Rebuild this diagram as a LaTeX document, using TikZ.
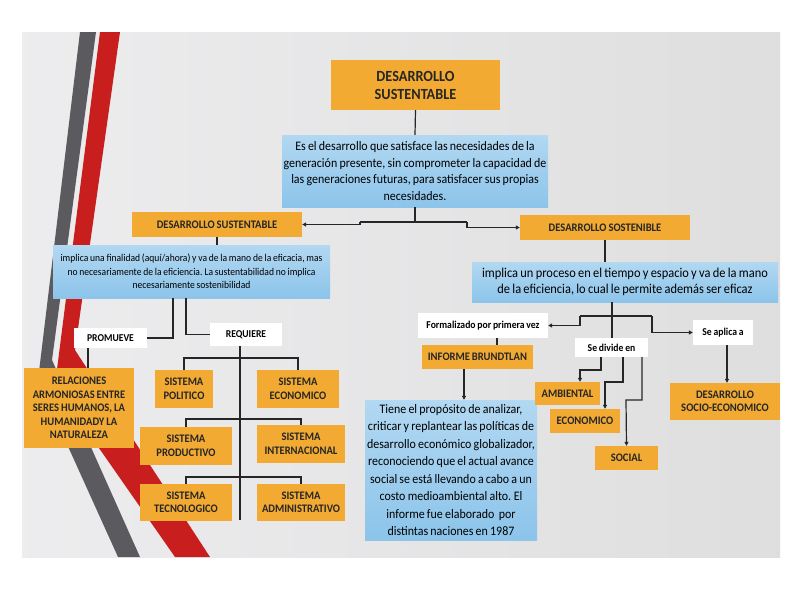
\documentclass[tikz,border=0pt]{standalone}
\usepackage{fontspec}
\setmainfont{Carlito}[FakeStretch=0.92]
\usetikzlibrary{arrows.meta,calc}
\definecolor{naranja}{RGB}{242,170,50}
\definecolor{celeste}{RGB}{178,216,242}
\definecolor{celesteB}{RGB}{140,196,234}
\definecolor{fondo}{RGB}{232,232,234}
\definecolor{rojo}{RGB}{200,30,30}
\definecolor{gris}{RGB}{90,90,95}
\newcommand\apretado{\spaceskip=0.17em plus 0.05em minus 0.02em\xspaceskip=0.2em}
\tikzset{
  caja/.style={fill=naranja,inner sep=1pt,align=center,font=\bfseries\fontsize{11.5}{13.5}\selectfont\apretado,text=black!85},
  nube/.style={top color=celeste,bottom color=celesteB,inner sep=1pt,align=center,font=\fontsize{13}{16.5}\selectfont\apretado},
  etiqueta/.style={fill=white,inner sep=1pt,align=center,font=\bfseries\fontsize{10.5}{12}\selectfont\apretado},
  linea/.style={draw=black!85,line width=1.2pt},
  flecha/.style={linea,-{Triangle[length=4pt,width=4pt]}}
}
\begin{document}
\begin{tikzpicture}[x=1pt,y=-1pt]
\path[use as bounding box,fill=white] (0,0) rectangle (800,600);
\fill[left color=fondo!80!white,right color=fondo!70!gray!60] (22,32) rectangle (780,557);
% franjas
\fill[gris] (80,32) -- (96,32) -- (52,360) -- (140,557) -- (118,557) -- (38,380) -- cycle;
\fill[rojo] (100,32) -- (120,32) -- (75,350) -- (210,557) -- (175,557) -- (55,385) -- cycle;

% nodos
\node[caja,minimum width=169pt,minimum height=50pt,font=\bfseries\fontsize{15.5}{18}\selectfont] (titulo) at (415.5,85) {DESARROLLO\\SUSTENTABLE};
\node[nube,minimum width=266pt,minimum height=72pt] (def) at (415,171) {Es el desarrollo que satisface las necesidades de la\\generación presente, sin comprometer la capacidad de\\las generaciones futuras, para satisfacer sus propias\\necesidades.};
\node[caja,minimum width=170pt,minimum height=25pt] (dsus) at (217,224.5) {DESARROLLO SUSTENTABLE};
\node[caja,minimum width=170pt,minimum height=25pt] (dsos) at (605,227.5) {DESARROLLO SOSTENIBLE};
\node[nube,minimum width=277pt,minimum height=53pt,font=\fontsize{10.4}{13.5}\selectfont\apretado] (impl1) at (191.5,271.5) {implica una finalidad (aquí/ahora) y va de la mano de la eficacia, mas\\no necesariamente de la eficiencia. La sustentabilidad no implica\\necesariamente sostenibilidad};
\node[nube,minimum width=306pt,minimum height=40pt,font=\fontsize{13.5}{16.5}\selectfont\apretado] (impl2) at (625,282) {implica un proceso en el tiempo y espacio y va de la mano\\de la eficiencia, lo cual le permite además ser eficaz};
\node[etiqueta,minimum width=73pt,minimum height=20pt] (promueve) at (110.5,338) {PROMUEVE};
\node[etiqueta,minimum width=72pt,minimum height=23pt] (requiere) at (246,334.5) {REQUIERE};
\node[caja,minimum width=110pt,minimum height=80pt] (relac) at (79,408) {RELACIONES\\ARMONIOSAS ENTRE\\SERES HUMANOS, LA\\HUMANIDADY LA\\NATURALEZA};
\node[caja,minimum width=58pt,minimum height=38pt] (politico) at (184,389) {SISTEMA\\POLITICO};
\node[caja,minimum width=82pt,minimum height=38pt] (economico) at (298,389) {SISTEMA\\ECONOMICO};
\node[caja,minimum width=92pt,minimum height=38pt] (productivo) at (186,446) {SISTEMA\\PRODUCTIVO};
\node[caja,minimum width=88pt,minimum height=38pt] (internac) at (301,444) {SISTEMA\\INTERNACIONAL};
\node[caja,minimum width=92pt,minimum height=37pt] (tecnol) at (186,502.5) {SISTEMA\\TECNOLOGICO};
\node[caja,minimum width=88pt,minimum height=37pt] (admin) at (301,502.5) {SISTEMA\\ADMINISTRATIVO};
\node[etiqueta,minimum width=130pt,minimum height=25pt] (formal) at (483,325.5) {Formalizado por primera vez};
\node[caja,minimum width=111pt,minimum height=24pt] (informe) at (477.5,357) {INFORME BRUNDTLAN};
\node[nube,minimum width=172pt,minimum height=140pt,font=\fontsize{13}{17.5}\selectfont\apretado] (tiene) at (451,470) {Tiene el propósito de analizar,\\criticar y replantear las políticas de\\desarrollo económico globalizador,\\reconociendo que el actual avance\\social se está llevando a cabo a un\\costo medioambiental alto. El\\informe fue elaborado\ \ por\\distintas naciones en 1987};
\node[etiqueta,minimum width=73pt,minimum height=19pt] (divide) at (611.5,347.5) {Se divide en};
\node[etiqueta,minimum width=60pt,minimum height=25pt] (aplica) at (723,332.5) {Se aplica a};
\node[caja,minimum width=65pt,minimum height=23pt] (ambiental) at (567.5,393.5) {AMBIENTAL};
\node[caja,minimum width=70pt,minimum height=24pt] (econ2) at (585,421) {ECONOMICO};
\node[caja,minimum width=63pt,minimum height=24pt] (social) at (626.5,458) {SOCIAL};
\node[caja,minimum width=110pt,minimum height=37pt] (socioeco) at (725,401.5) {DESARROLLO\\SOCIO-ECONOMICO};

% conectores superiores
\coordinate (bifA) at (360,222);
\coordinate (bifB) at (467,222);
\draw[linea] (titulo.south) -- (def.north);
\draw[linea] (def.south) -- (def.south |- bifA);
\draw[linea] (bifA) -- (bifB);
\draw[flecha] (bifA) -- (bifA |- dsus.east) -- (dsus.east);
\draw[flecha] (bifB) -- (bifB |- dsos.west) -- (dsos.west);
\draw[linea] (dsus.south) -- (impl1.north -| dsus.south);
\draw[linea] (dsos.south) -- (impl2.north -| dsos.south);

% rama sustentable
\coordinate (p1) at (173,298);
\coordinate (p2) at (186,298);
\draw[linea] (p1) |- (promueve.east);
\draw[linea] (p2) |- (requiere.west);
\draw[linea] (promueve.south -| 88,0) -- (relac.north -| 88,0);
\coordinate (tronco) at (240,520);
\draw[linea] (requiere.south -| tronco) -- (tronco);
\draw[linea] (politico.north) |- (240,358) -| (economico.north);
\draw[linea] (productivo.north) |- (240,419) -| (internac.north);
\draw[linea] (tecnol.north) |- (240,477) -| (admin.north);

% rama sostenible
\coordinate (q1) at (580,316);
\coordinate (q2) at (652,316);
\draw[linea] (impl2.south -| 612,0) -- (divide.north -| 612,0);
\draw[linea] (q1) -- (q2);
\draw[flecha] (q1) |- (formal.east);
\draw[flecha] (q2) |- (aplica.west);
\draw[linea] (formal.south -| 497,0) -- (informe.north -| 497,0);
\draw[flecha] (informe.south -| 464,0) -- (tiene.north -| 464,0);
\draw[flecha] (divide.south -| 601,0) |- (580,370) -- (ambiental.north -| 580,0);
\draw[flecha] (divide.south -| 623,0) |- (605,382) -- (econ2.north -| 605,0);
\draw[flecha] (divide.south -| 642,0) |- (626,400) -- (social.north);
\draw[flecha] (aplica.south -| 727,0) -- (socioeco.north -| 727,0);
\end{tikzpicture}
\end{document}
